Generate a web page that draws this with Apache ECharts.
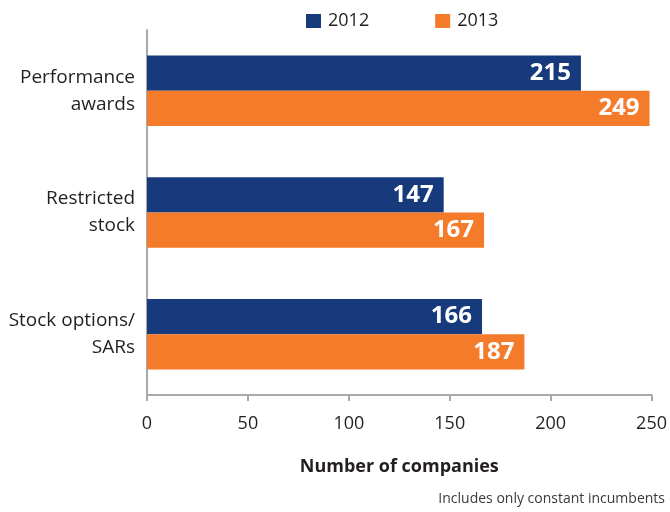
<!DOCTYPE html>
<html>
<head>
<meta charset="utf-8">
<script src="https://cdn.jsdelivr.net/npm/echarts@6/dist/echarts.min.js"></script>
<style>
  html, body { margin: 0; padding: 0; background: #fff; }
  #chart { width: 670px; height: 512px; }
</style>
</head>
<body>
<div id="chart"></div>
<script>
// Award types (top to bottom) and company counts per year
const categories = ['Performance\nawards', 'Restricted\nstock', 'Stock options/\nSARs'];
const values2012 = [215, 147, 166];
const values2013 = [249, 167, 187];
const xTicks = { min: 0, max: 250, interval: 50 };

const FONT = '"Open Sans", "Noto Sans", sans-serif';
const NAVY = '#173a7c';
const ORANGE = '#f47b2a';
const AXIS = '#a7a9ac';
const TEXT = '#231f20';

const chart = echarts.init(document.getElementById('chart'), null, { renderer: 'canvas' });

const barLabel = {
  show: true,
  position: 'insideRight',
  distance: 10,
  color: '#fff',
  fontFamily: FONT,
  fontWeight: 'bold',
  fontSize: 24
};

chart.setOption({
  animation: false,
  textStyle: { fontFamily: FONT },
  legend: {
    top: 7,
    left: 301,
    itemWidth: 15,
    itemHeight: 14,
    itemGap: 66,
    icon: 'rect',
    textStyle: { fontFamily: FONT, fontSize: 18, color: TEXT, padding: [0, 0, 0, 2] },
    data: ['2012', '2013']
  },
  grid: { left: 147, right: 17, top: 30, bottom: 117, containLabel: false },
  xAxis: {
    type: 'value',
    min: xTicks.min,
    max: xTicks.max,
    interval: xTicks.interval,
    name: 'Number of companies',
    nameLocation: 'middle',
    nameGap: 63,
    nameTextStyle: { fontFamily: FONT, fontSize: 18, fontWeight: 'bold', color: TEXT },
    axisLine: { show: true, lineStyle: { color: AXIS, width: 2 } },
    axisTick: { show: true, length: 6, lineStyle: { color: AXIS, width: 2 } },
    axisLabel: { fontFamily: FONT, fontSize: 18, color: TEXT, margin: 20 },
    splitLine: { show: false }
  },
  yAxis: {
    type: 'category',
    inverse: true,
    data: categories,
    axisLine: { show: true, lineStyle: { color: AXIS, width: 2 } },
    axisTick: { show: false },
    axisLabel: {
      fontFamily: FONT, fontSize: 19, color: TEXT, margin: 12,
      lineHeight: 27, align: 'right'
    }
  },
  series: [
    {
      name: '2012', type: 'bar', data: values2012,
      itemStyle: { color: NAVY },
      barGap: '0%', barCategoryGap: '42%',
      label: barLabel
    },
    {
      name: '2013', type: 'bar', data: values2013,
      itemStyle: { color: ORANGE },
      label: barLabel
    }
  ],
  graphic: [{
    type: 'text',
    right: 5,
    top: 492,
    style: { text: 'Includes only constant incumbents', font: '14px ' + FONT, fill: '#3a3a3a' }
  }]
});
</script>
</body>
</html>
